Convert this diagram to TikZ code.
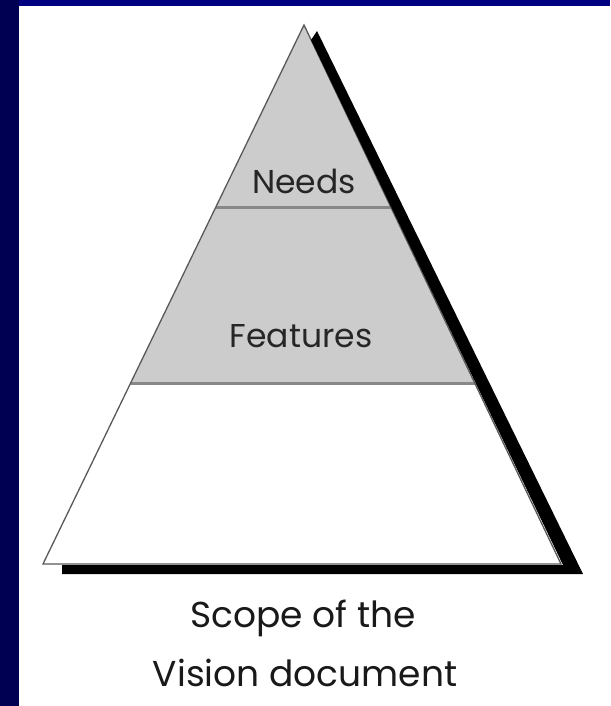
\documentclass[tikz,border=0pt]{standalone}
\usepackage{fontspec}
\setmainfont{Poppins}
\usetikzlibrary{calc}
\definecolor{slideblue}{RGB}{0,0,128}
\definecolor{slidebluedark}{RGB}{0,0,82}
\definecolor{bandgray}{RGB}{204,204,204}
\definecolor{rulegray}{RGB}{136,136,136}
\begin{document}
\begin{tikzpicture}[
    x=1pt, y=-1pt,
    outline/.style={draw=black!65, line width=1.3pt, line join=miter},
    band/.style={fill=bandgray},
    rule/.style={draw=rulegray, line width=3pt},
    dropshadow/.style={fill=black},
    levellabel/.style={anchor=base, font=\fontsize{33}{38}\selectfont, text=black!85},
    scopetext/.style={anchor=base, font=\fontsize{36}{42}\selectfont, text=black!90}
]
\useasboundingbox (0,0) rectangle (610,706);
\fill[white] (0,0) rectangle (610,706);
\fill[slideblue] (0,0) rectangle (610,6);
\fill[slidebluedark] (0,0) rectangle (19,706);

% the pyramid
\coordinate (apex) at (304,25);
\coordinate (left) at (43,564);
\coordinate (right) at (561,564);
\coordinate (needsL) at ($(apex)!0.3377!(left)$);
\coordinate (needsR) at ($(apex)!0.3377!(right)$);
\coordinate (featL) at ($(apex)!0.6642!(left)$);
\coordinate (featR) at ($(apex)!0.6642!(right)$);

\fill[white] (apex) -- (left) -- (right) -- cycle;
\fill[band] (apex) -- (featL) -- (featR) -- cycle;
\draw[rule] (needsL) -- (needsR);
\draw[rule] (featL) -- (featR);
\draw[outline] (apex) -- (left) -- (right) -- cycle;

% shadow
\coordinate (shadowT) at (317,31);
\coordinate (shadowOut) at (583,574);
\coordinate (shadowBL) at (62,574);
\coordinate (shadowTL) at (62,565);
\coordinate (shadowIn) at (563,565);
\coordinate (shadowTin) at (311,40);
\fill[dropshadow] (shadowT) -- (shadowOut) -- (shadowBL) -- (shadowTL) -- (shadowIn) -- (shadowTin) -- cycle;

\node[levellabel] (needs) at (304,193) {Needs};
\node[levellabel] (features) at (301,347) {Features};
\node[scopetext] (scope) at (303,627) {Scope of the};
\node[scopetext] (vision) at (305,686) {Vision document};
\end{tikzpicture}
\end{document}
